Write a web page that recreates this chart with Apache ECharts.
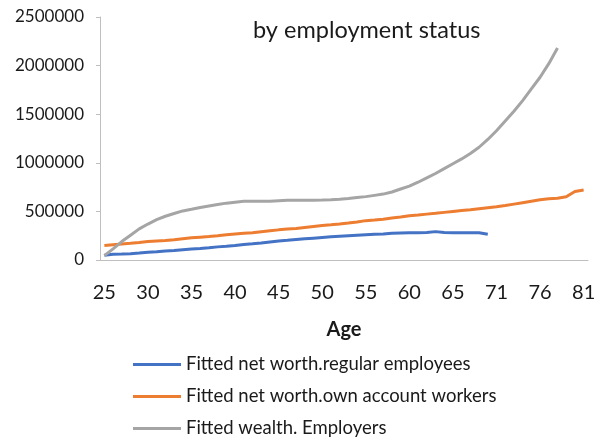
<html>
<head>
    <meta http-equiv="Content-Type" content="text/html; charset=utf-8" />
</head>
<script type="text/javascript" src="https://cdn.jsdelivr.net/npm/echarts@6/dist/echarts.min.js"></script>
<body style="margin:0">
<div id="main" style="width: 603px;height:439px;"></div>
</body>
<script type="text/javascript">
    // ages on the category axis (68 is not in the source table)
    var ages = [25, 26, 27, 28, 29, 30, 31, 32, 33, 34, 35, 36, 37, 38, 39, 40, 41, 42, 43, 44,
        45, 46, 47, 48, 49, 50, 51, 52, 53, 54, 55, 56, 57, 58, 59, 60, 61, 62, 63, 64,
        65, 66, 67, 69, 70, 71, 72, 73, 74, 75, 76, 77, 78, 79, 80, 81];

    var regularEmployees = [50000, 60000, 62000, 65000, 72000, 80000, 85000, 92000, 98000, 105000,
        112000, 118000, 125000, 135000, 142000, 150000, 160000, 167000, 175000, 185000,
        195000, 202000, 210000, 218000, 225000, 232000, 238000, 244000, 250000, 255000,
        260000, 265000, 268000, 275000, 278000, 280000, 280000, 283000, 292000, 282000,
        280000, 280000, 280000, 280000, 265000];

    var ownAccountWorkers = [150000, 158000, 165000, 172000, 180000, 190000, 195000, 200000, 208000, 218000,
        228000, 235000, 242000, 250000, 260000, 268000, 275000, 280000, 290000, 300000,
        310000, 318000, 325000, 335000, 345000, 355000, 362000, 370000, 380000, 392000,
        405000, 412000, 420000, 432000, 442000, 455000, 462000, 472000, 480000, 490000,
        500000, 510000, 518000, 528000, 538000, 548000, 560000, 575000, 590000, 605000,
        620000, 630000, 635000, 650000, 705000, 720000];

    var employers = [45000, 115000, 190000, 255000, 320000, 370000, 415000, 450000, 478000, 505000,
        522000, 540000, 555000, 570000, 585000, 595000, 605000, 605000, 605000, 605000,
        610000, 615000, 615000, 615000, 615000, 617000, 620000, 625000, 632000, 642000,
        652000, 665000, 678000, 700000, 730000, 760000, 800000, 845000, 890000, 940000,
        990000, 1040000, 1095000, 1160000, 1240000, 1330000, 1430000, 1530000, 1640000, 1760000,
        1880000, 2020000, 2180000];

    var seriesNames = ['Fitted net worth.regular employees', 'Fitted net worth.own account workers', 'Fitted wealth. Employers'];
    var colors = ['#4472C4', '#ED7D31', '#A5A5A5'];

    var font = 'Lato';
    var textColor = '#1a1a1a';

    function lineSeries(name, data, color) {
        return {
            name: name,
            type: 'line',
            data: data,
            showSymbol: false,
            lineStyle: {color: color, width: 3},
            itemStyle: {color: color}
        };
    }

    var myChart = echarts.init(document.getElementById('main'));
    myChart.setOption({
        animation: false,
        title: {
            text: 'by employment status',
            left: 248,
            top: 13,
            textStyle: {fontFamily: font, fontSize: 23.5, fontWeight: 'normal', color: textColor}
        },
        grid: {left: 100, right: 15, top: 17, bottom: 179},
        legend: {
            orient: 'vertical',
            left: 133,
            top: 355,
            padding: 0,
            itemWidth: 48,
            itemHeight: 3,
            itemGap: 13,
            icon: 'rect',
            data: seriesNames,
            textStyle: {fontFamily: font, fontSize: 18.5, color: textColor, lineHeight: 19}
        },
        xAxis: {
            type: 'category',
            data: ages,
            boundaryGap: true,
            name: 'Age',
            nameLocation: 'middle',
            nameGap: 60,
            nameTextStyle: {fontFamily: font, fontSize: 20, fontWeight: 'bold', color: textColor},
            axisLine: {lineStyle: {color: '#BFBFBF', width: 1}},
            axisTick: {show: false},
            axisLabel: {interval: 4, margin: 23, fontFamily: font, fontSize: 20, color: textColor}
        },
        yAxis: {
            type: 'value',
            min: 0,
            max: 2500000,
            interval: 500000,
            axisLine: {show: true, lineStyle: {color: '#BFBFBF', width: 1}},
            axisTick: {show: true, length: 4, lineStyle: {color: '#BFBFBF'}},
            splitLine: {show: false},
            axisLabel: {
                margin: 16, fontFamily: font, fontSize: 17, color: textColor,
                formatter: function (v) { return String(v); }
            }
        },
        series: [
            lineSeries(seriesNames[0], regularEmployees, colors[0]),
            lineSeries(seriesNames[1], ownAccountWorkers, colors[1]),
            lineSeries(seriesNames[2], employers, colors[2])
        ]
    });
</script>
</html>
